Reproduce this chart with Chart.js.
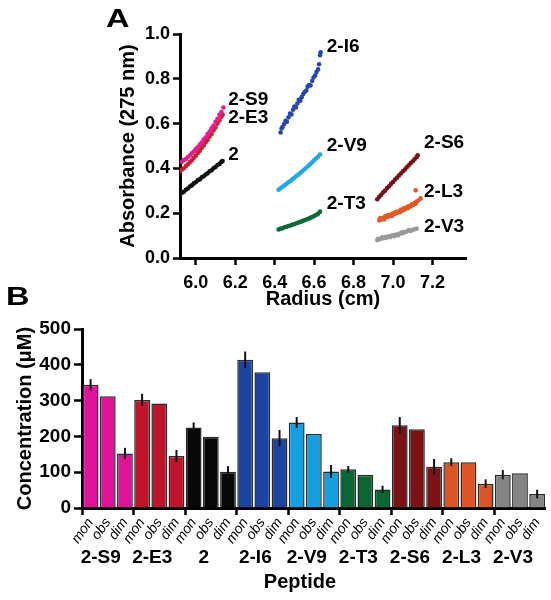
<!DOCTYPE html>
<html>
<head>
<meta charset="utf-8">
<script src="https://cdn.jsdelivr.net/npm/chart.js@4.4.1/dist/chart.umd.min.js"></script>
<style>
  body { margin: 0; background: #fff; width: 551px; height: 600px; position: relative; overflow: hidden; }
  .panel { position: absolute; left: 0; width: 551px; }
  #wrapA { top: 0; height: 312px; }
  #wrapB { top: 300px; height: 300px; }
</style>
</head>
<body>
<div class="panel" id="wrapA"><canvas id="absChart" width="551" height="312"></canvas></div>
<div class="panel" id="wrapB"><canvas id="concChart" width="551" height="300"></canvas></div>
<script>
// ---- Panel A: absorbance vs radius ----
const radiusTicks = [6.0, 6.2, 6.4, 6.6, 6.8, 7.0, 7.2];

const rS9 = [5.93,5.94,5.95,5.96,5.97,5.98,5.99,6.00,6.01,6.02,6.03,6.04,6.05,6.06,6.07,6.08,6.09,6.10,6.11,6.12,6.13,6.14];
const aS9 = [0.430,0.437,0.442,0.451,0.457,0.467,0.475,0.486,0.494,0.506,0.515,0.529,0.538,0.553,0.564,0.579,0.591,0.608,0.621,0.639,0.652,0.672];

const rE3 = [5.92,5.93,5.94,5.95,5.96,5.97,5.98,5.99,6.00,6.01,6.02,6.03,6.04,6.05,6.06,6.07,6.08,6.09,6.10,6.11,6.12,6.13,6.136];
const aE3 = [0.387,0.395,0.401,0.411,0.418,0.428,0.436,0.447,0.456,0.469,0.478,0.491,0.502,0.516,0.527,0.542,0.554,0.570,0.583,0.600,0.614,0.631,0.640];

const r2 = [5.92,5.93,5.94,5.95,5.96,5.97,5.98,5.99,6.00,6.01,6.02,6.03,6.04,6.05,6.06,6.07,6.08,6.09,6.10,6.11,6.12,6.13,6.136];
const a2 = [0.285,0.291,0.296,0.305,0.310,0.319,0.324,0.333,0.338,0.347,0.351,0.360,0.365,0.373,0.378,0.387,0.392,0.401,0.406,0.415,0.420,0.429,0.433];

const rI6 = [6.430,6.435,6.440,6.448,6.455,6.462,6.470,6.478,6.485,6.493,6.500,6.508,6.515,6.522,6.530,6.537,6.545,6.552,6.560,6.567,6.575,6.582,6.590,6.597,6.605,6.612,6.620,6.625,6.630,6.633];
const aI6 = [0.560,0.578,0.585,0.598,0.612,0.608,0.628,0.645,0.641,0.662,0.676,0.672,0.690,0.706,0.702,0.718,0.732,0.741,0.748,0.765,0.772,0.770,0.790,0.806,0.815,0.830,0.842,0.865,0.905,0.918];

const rV9 = [6.42,6.43,6.44,6.45,6.46,6.47,6.48,6.49,6.50,6.51,6.52,6.53,6.54,6.55,6.56,6.57,6.58,6.59,6.60,6.61,6.62,6.63];
const aV9 = [0.305,0.311,0.318,0.324,0.331,0.338,0.344,0.352,0.358,0.366,0.372,0.380,0.387,0.395,0.403,0.411,0.419,0.427,0.436,0.444,0.452,0.462];

const rT3 = [6.42,6.43,6.44,6.45,6.46,6.47,6.48,6.49,6.50,6.51,6.52,6.53,6.54,6.55,6.56,6.57,6.58,6.59,6.60,6.61,6.62,6.63];
const aT3 = [0.127,0.131,0.133,0.137,0.139,0.143,0.145,0.149,0.151,0.155,0.158,0.161,0.165,0.168,0.172,0.175,0.179,0.183,0.187,0.192,0.198,0.207];

const rS6 = [6.92,6.93,6.94,6.95,6.96,6.97,6.98,6.99,7.00,7.01,7.02,7.03,7.04,7.05,7.06,7.07,7.08,7.09,7.10,7.11,7.12,7.125];
const aS6 = [0.262,0.273,0.282,0.293,0.301,0.312,0.320,0.331,0.339,0.350,0.358,0.368,0.377,0.387,0.395,0.405,0.414,0.424,0.432,0.442,0.451,0.459];

const rL3 = [6.93,6.935,6.94,6.95,6.955,6.96,6.97,6.975,6.98,6.99,6.995,7.00,7.01,7.015,7.02,7.03,7.035,7.04,7.05,7.055,7.06,7.07,7.075,7.08,7.09,7.095,7.10,7.11,7.115,7.12,7.13,7.14,7.115];
const aL3 = [0.168,0.178,0.172,0.180,0.172,0.186,0.183,0.192,0.186,0.194,0.188,0.200,0.197,0.206,0.201,0.209,0.204,0.216,0.212,0.222,0.217,0.228,0.222,0.232,0.230,0.240,0.236,0.246,0.242,0.252,0.258,0.266,0.302];

const rV3 = [6.92,6.925,6.93,6.94,6.945,6.95,6.96,6.965,6.97,6.98,6.985,6.99,7.00,7.005,7.01,7.02,7.025,7.03,7.04,7.045,7.05,7.06,7.07,7.08,7.09,7.10,7.11,7.12];
const aV3 = [0.080,0.086,0.083,0.087,0.092,0.088,0.093,0.089,0.095,0.097,0.093,0.099,0.101,0.097,0.104,0.105,0.101,0.108,0.110,0.115,0.111,0.116,0.118,0.125,0.121,0.126,0.128,0.131];

// ---- Panel B: concentrations (uM) ----
const groups = ['2-S9', '2-E3', '2', '2-I6', '2-V9', '2-T3', '2-S6', '2-L3', '2-V3'];
const barKinds = ['mon', 'obs', 'dim'];
const monomer  = [344, 302, 225, 414, 239, 108, 231, 128, 93];
const observed = [312, 292, 199, 379, 207,  93, 220, 128, 97];
const dimer    = [152, 145, 101, 195, 102,  52, 115,  68, 39];
const monomerErr = [16, 17, 14, 23, 15,  9, 23, 11, 13];
const dimerErr   = [16, 17, 16, 23, 18, 10, 22, 12, 12];

const pointColors = ['#e0208f', '#cc1f32', '#111111', '#2646ae', '#22a8e4', '#0c6a36', '#7a1016', '#e25a26', '#9a9a9a'];
const barColors   = ['#e0139a', '#c0142c', '#080808', '#1c44a0', '#14a0e0', '#0b6636', '#7a1216', '#dd5427', '#858585'];

const FONT = '"Liberation Sans", Arial, Helvetica, sans-serif';
Chart.defaults.font.family = FONT;
Chart.defaults.color = '#000';

const zip = (xs, ys) => xs.map((x, i) => ({ x: x, y: ys[i] }));
const scans = [[rS9, aS9], [rE3, aE3], [r2, a2], [rI6, aI6], [rV9, aV9], [rT3, aT3], [rS6, aS6], [rL3, aL3], [rV3, aV3]];

// where the peptide names sit, in data units of panel A
const tagSpots = [
  { text: '2-S9', x: 6.164, y: 0.708 },
  { text: '2-E3', x: 6.164, y: 0.627 },
  { text: '2',    x: 6.164, y: 0.463 },
  { text: '2-I6', x: 6.664, y: 0.945 },
  { text: '2-V9', x: 6.664, y: 0.502 },
  { text: '2-T3', x: 6.664, y: 0.242 },
  { text: '2-S6', x: 7.157, y: 0.513 },
  { text: '2-L3', x: 7.157, y: 0.294 },
  { text: '2-V3', x: 7.157, y: 0.141 }
];

const peptideTags = {
  id: 'peptideTags',
  afterDraw(chart) {
    const { ctx, scales: { x, y } } = chart;
    ctx.save();
    ctx.fillStyle = '#000';
    ctx.font = 'bold 19px ' + FONT;
    ctx.textBaseline = 'middle';
    ctx.textAlign = 'left';
    tagSpots.forEach(t => ctx.fillText(t.text, x.getPixelForValue(t.x), y.getPixelForValue(t.y)));
    // panel letters
    ctx.font = 'bold 25px ' + FONT;
    ctx.textBaseline = 'alphabetic';
    [['A', 106, 27], ['B', 6, 305]].forEach(([s, px, py]) => {
      ctx.save();
      ctx.translate(px, py);
      ctx.scale(1.3, 1);
      ctx.fillText(s, 0, 0);
      ctx.restore();
    });
    ctx.restore();
  }
};

new Chart(document.getElementById('absChart'), {
  type: 'scatter',
  data: {
    datasets: scans.map((s, i) => ({
      data: zip(s[0], s[1]),
      backgroundColor: pointColors[i],
      borderWidth: 0,
      pointRadius: 2.3
    }))
  },
  options: {
    responsive: false,
    animation: false,
    layout: { padding: { top: 34, right: 85, left: 0, bottom: 0 } },
    plugins: { legend: { display: false }, tooltip: { enabled: false } },
    scales: {
      x: {
        type: 'linear', min: 5.92, max: 7.37,
        afterBuildTicks: s => { s.ticks = radiusTicks.map(v => ({ value: v })); },
        afterFit: s => { s.height = 54; },
        ticks: { callback: v => v.toFixed(1), font: { size: 18, weight: 'bold' }, padding: 7, color: '#000' },
        grid: { drawOnChartArea: false, tickLength: 7, tickWidth: 2.5, tickColor: '#000' },
        border: { width: 3, color: '#000' },
        title: { display: true, text: 'Radius (cm)', font: { size: 20, weight: 'bold' }, padding: { top: 0, bottom: 1 } }
      },
      y: {
        min: 0, max: 1,
        afterFit: s => { s.width = 180; },
        ticks: { stepSize: 0.2, callback: v => v.toFixed(1), font: { size: 18, weight: 'bold' }, padding: 3, color: '#000' },
        grid: { drawOnChartArea: false, tickLength: 7, tickWidth: 2.5, tickColor: '#000' },
        border: { width: 3, color: '#000' },
        title: { display: true, text: 'Absorbance (275 nm)', font: { size: 20, weight: 'bold' }, padding: { top: 116, bottom: 0 } }
      }
    }
  },
  plugins: [peptideTags]
});

// ---- build the bar table ----
const barValues = [], barErrs = [], barLabels = [], barFill = [];
groups.forEach((g, i) => {
  barValues.push(monomer[i], observed[i], dimer[i]);
  barErrs.push(monomerErr[i], 0, dimerErr[i]);
  barLabels.push(...barKinds);
  barFill.push(barColors[i], barColors[i], barColors[i]);
});

const errorBars = {
  id: 'errorBars',
  afterDatasetsDraw(chart) {
    const meta = chart.getDatasetMeta(0);
    const y = chart.scales.y;
    const ctx = chart.ctx;
    ctx.save();
    ctx.strokeStyle = '#111';
    ctx.lineWidth = 2;
    barErrs.forEach((e, i) => {
      if (!e) return;
      const x = meta.data[i].x;
      ctx.beginPath();
      ctx.moveTo(x, y.getPixelForValue(barValues[i] + e));
      ctx.lineTo(x, y.getPixelForValue(barValues[i] - e));
      ctx.stroke();
    });
    ctx.restore();
  }
};

new Chart(document.getElementById('concChart'), {
  type: 'bar',
  data: {
    labels: barLabels,
    datasets: [{
      data: barValues,
      backgroundColor: barFill,
      borderColor: '#2a2a2a',
      borderWidth: 1.5,
      barPercentage: 0.92,
      categoryPercentage: 1
    }]
  },
  options: {
    responsive: false,
    animation: false,
    layout: { padding: { top: 29, right: 5, left: 0, bottom: 0 } },
    plugins: { legend: { display: false }, tooltip: { enabled: false } },
    scales: {
      x: {
        type: 'category', offset: true, z: 1,
        afterFit: s => { s.height = 36; },
        ticks: { autoSkip: false, maxRotation: 55, minRotation: 55, padding: 0, color: '#000', font: { size: 14, style: 'italic' } },
        grid: {
          offset: true, drawOnChartArea: false, tickLength: 7, tickWidth: 2.5,
          tickColor: c => (c.index % 3 === 0 ? '#000' : 'rgba(0,0,0,0)')
        },
        border: { width: 3, color: '#000' }
      },
      x2: {
        type: 'category', labels: groups, position: 'bottom', offset: true,
        afterFit: s => { s.height = 56; },
        ticks: { font: { size: 19, weight: 'bold' }, padding: 2, labelOffset: -7, color: '#000' },
        grid: { display: false, drawTicks: false },
        border: { display: false },
        title: { display: true, text: 'Peptide     ', font: { size: 20, weight: 'bold' }, padding: { top: 0, bottom: 6 } }
      },
      y: {
        min: 0, max: 500,
        afterFit: s => { s.width = 82; },
        ticks: { stepSize: 100, font: { size: 19, weight: 'bold' }, padding: 3, color: '#000' },
        grid: { drawOnChartArea: false, tickLength: 8, tickWidth: 2.5, tickColor: '#000' },
        border: { width: 3, color: '#000' },
        title: { display: true, text: 'Concentration (\u03bcM)', font: { size: 20, weight: 'bold' }, padding: { top: 13, bottom: 0 } }
      }
    }
  },
  plugins: [errorBars]
});
</script>
</body>
</html>
